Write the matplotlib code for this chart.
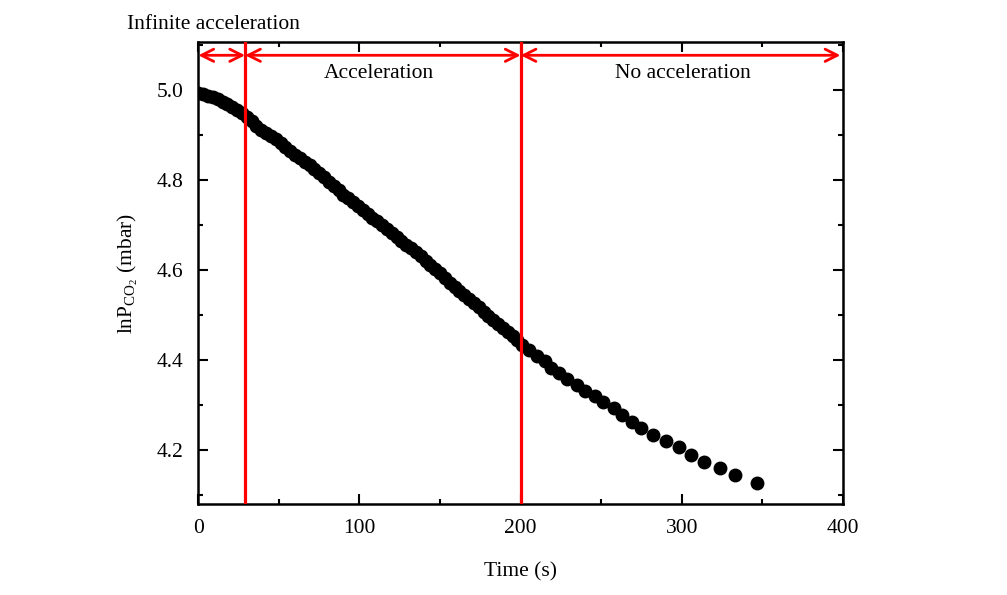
import numpy as np
import matplotlib
matplotlib.use("Agg")
import matplotlib.pyplot as plt
from matplotlib.ticker import MultipleLocator, FormatStrFormatter

plt.rcParams["font.family"] = ["Liberation Serif", "DejaVu Serif"]
plt.rcParams["mathtext.fontset"] = "custom"
plt.rcParams["mathtext.rm"] = "Liberation Serif"

# dense part of the run (0 - 198 s)
t_dense = [0, 3, 6, 9, 12, 15, 18, 21, 24, 27, 30, 33, 36, 39, 42, 45, 48, 51,
           54, 57, 60, 63, 66, 69, 72, 75, 78, 81, 84, 87, 90, 93, 96, 99, 102,
           105, 108, 111, 114, 117, 120, 123, 126, 129, 132, 135, 138, 141, 144,
           147, 150, 153, 156, 159, 162, 165, 168, 171, 174, 177, 180, 183, 186,
           189, 192, 195, 198]
lnp_dense = [4.993, 4.991, 4.988, 4.985, 4.981, 4.975, 4.969, 4.963, 4.956,
             4.949, 4.941, 4.931, 4.921, 4.912, 4.905, 4.898, 4.891, 4.883,
             4.874, 4.865, 4.856, 4.849, 4.841, 4.833, 4.826, 4.816, 4.807,
             4.797, 4.787, 4.778, 4.768, 4.760, 4.751, 4.743, 4.734, 4.726,
             4.717, 4.709, 4.700, 4.691, 4.683, 4.674, 4.666, 4.657, 4.649,
             4.640, 4.631, 4.621, 4.612, 4.603, 4.593, 4.582, 4.572, 4.563,
             4.554, 4.545, 4.535, 4.526, 4.517, 4.508, 4.499, 4.490, 4.481,
             4.472, 4.463, 4.454, 4.445]

# sparse part (after 200 s)
t_late = [201, 205, 210, 215, 219, 224, 229, 235, 240, 246, 251, 258, 263, 269,
          275, 282, 290, 298, 306, 314, 324, 333, 347]
lnp_late = [4.433, 4.422, 4.409, 4.398, 4.383, 4.372, 4.359, 4.344, 4.332,
            4.320, 4.306, 4.294, 4.278, 4.263, 4.250, 4.233, 4.220, 4.206,
            4.190, 4.174, 4.159, 4.144, 4.127]

boundaries = [29, 200]
regions = ["Acceleration", "No acceleration"]
region_x = [112, 301]

fig = plt.figure(figsize=(10.07, 5.95), dpi=100)
ax = fig.add_axes([0.197, 0.153, 0.640, 0.776])

t_all = t_dense + t_late
lnp_all = lnp_dense + lnp_late
ax.plot(t_all, lnp_all, "o", color="black", markersize=9, zorder=3)

ax.set_xlim(0, 400)
ax.set_ylim(4.08, 5.107)

for b in boundaries:
    ax.axvline(b, color="red", lw=2.3, zorder=4)

y_arr = 5.078
edges = [0] + boundaries + [398.5]
for a, b in zip(edges[:-1], edges[1:]):
    ax.annotate("", xy=(b, y_arr), xytext=(a, y_arr),
                arrowprops=dict(arrowstyle="<->", color="red", lw=2,
                                mutation_scale=22, shrinkA=0, shrinkB=0),
                zorder=5)

for txt, x in zip(regions, region_x):
    ax.text(x, 5.037, txt, ha="center", va="center", fontsize=15.5)

fig.text(0.126, 0.958, "Infinite acceleration", ha="left", va="center",
         fontsize=15.5)

ax.xaxis.set_major_locator(MultipleLocator(100))
ax.xaxis.set_minor_locator(MultipleLocator(50))
ax.yaxis.set_major_locator(MultipleLocator(0.2))
ax.yaxis.set_minor_locator(MultipleLocator(0.1))
ax.yaxis.set_major_formatter(FormatStrFormatter("%.1f"))
ax.tick_params(which="both", direction="in", top=True, right=True,
               labelsize=15.5, width=1.5)
ax.tick_params(which="major", length=7, pad=11)
ax.tick_params(which="minor", length=3.5)
for s in ax.spines.values():
    s.set_linewidth(1.8)

ax.set_xlabel("Time (s)", fontsize=15.5, labelpad=17)
ax.set_ylabel(r"lnP$_{\mathrm{CO_2}}$ (mbar)", fontsize=15.5, labelpad=12)

fig.savefig("out.png", dpi=100)
